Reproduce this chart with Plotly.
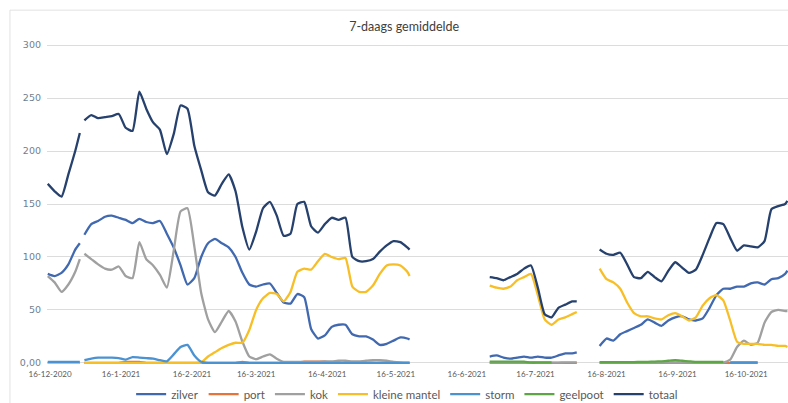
import plotly.graph_objects as go

N = None

dates = [
    "2020-12-15", "2020-12-18", "2020-12-21", "2020-12-24", "2020-12-27", "2020-12-29",
    "2020-12-30",
    "2020-12-31", "2021-01-03", "2021-01-06", "2021-01-09", "2021-01-12", "2021-01-15",
    "2021-01-18", "2021-01-21", "2021-01-24", "2021-01-27", "2021-01-30", "2021-02-02",
    "2021-02-05", "2021-02-08", "2021-02-11", "2021-02-14", "2021-02-17", "2021-02-20",
    "2021-02-23", "2021-02-26", "2021-03-01", "2021-03-04", "2021-03-07", "2021-03-10",
    "2021-03-13", "2021-03-16", "2021-03-19", "2021-03-22", "2021-03-25", "2021-03-28",
    "2021-03-31", "2021-04-03", "2021-04-06", "2021-04-09", "2021-04-12", "2021-04-15",
    "2021-04-18", "2021-04-21", "2021-04-24", "2021-04-27", "2021-04-30", "2021-05-03",
    "2021-05-06", "2021-05-09", "2021-05-12", "2021-05-15", "2021-05-18", "2021-05-21",
    "2021-05-22",
    "2021-06-09",
    "2021-06-26", "2021-06-29", "2021-07-02", "2021-07-05", "2021-07-08", "2021-07-11",
    "2021-07-14", "2021-07-17", "2021-07-20", "2021-07-23", "2021-07-26", "2021-07-29",
    "2021-08-01", "2021-08-03",
    "2021-08-08",
    "2021-08-13", "2021-08-16", "2021-08-19", "2021-08-22", "2021-08-25", "2021-08-28",
    "2021-08-31", "2021-09-03", "2021-09-06", "2021-09-09", "2021-09-12", "2021-09-15",
    "2021-09-18", "2021-09-21", "2021-09-24", "2021-09-27", "2021-09-30", "2021-10-03",
    "2021-10-06", "2021-10-09", "2021-10-12", "2021-10-15", "2021-10-18", "2021-10-21",
    "2021-10-24", "2021-10-27", "2021-10-30", "2021-11-02", "2021-11-03",
]

zilver = [
    84, 82, 85, 93, 107, 113,
    N,
    121, 131, 134, 138, 139, 137, 135, 132, 136, 133,
    132, 134, 122, 109, 92, 74, 80, 100, 113, 117,
    113, 109, 100, 85, 74, 72, 74, 75, 66, 57,
    56, 65, 62, 32, 23, 26, 34, 36, 36, 27,
    25, 25, 22, 17, 18, 21, 24, 23, 22,
    N,
    6, 7, 5, 4, 5, 6, 5, 6, 5, 5, 7, 9, 9, 10,
    N,
    16, 23, 21, 27, 30, 33, 36, 41, 38, 35,
    40, 43, 44, 41, 40, 42, 52, 64, 70, 70,
    72, 72, 75, 76, 74, 79, 80, 84, 87,
]

port = [
    0, 0, 0, 0, 0, 0,
    N,
    0, 0, 0, 0, 0, 0, 1, 1, 1, 0,
    0, 0, 0, 0, 0, 0, 0, 0, 0, 0,
    0, 0, 0, 1, 0, 0, 0, 0, 0, 0,
    0, 0, 1.2, 1.2, 1.2, 1.2, 0, 0, 0, 0,
    0, 0, 0, 0, 0, 0, 0, 0, 0,
    N,
    0, 0, 0, 0, 0, 0, 0, 0, 0, 0, 0, 0, 0, 0,
    N,
    0, 0, 0, 0, 0, 0, 0, 0, 0, 0,
    0, 0, 0, 0, 0, 0, 0, 0, 0, 0,
    0, 0, 0, 0, N, N, N, N, N,
]

kok = [
    82, 76, 67, 74, 86, 98,
    N,
    103, 98, 93, 89, 88, 91, 82, 80, 114, 98,
    92, 83, 71, 106, 143, 146, 110, 66, 41, 29,
    39, 49, 39, 20, 6, 3.5, 6, 8, 4, 1,
    1, 1, 1, 1, 1, 1.5, 1.5, 2, 2, 1.5,
    1.5, 2, 2.5, 2.5, 2, 1, 0.5, 0.3, 0.3,
    N,
    0.3, 0.3, 0.3, 0.3, 0.3, 0.3, 0.3, 0.3, 0.3, 0.3, 0.3, 0.4, 0.5, 0.5,
    N,
    0.3, 0.3, 0.3, 0.3, 0.3, 0.3, 0.3, 0.3, 0.3, 0.3,
    0.3, 0.3, 0.3, 0.3, 0.3, 0.3, 0.3, 0.3, 0.3, 3,
    15, 21, 17, 19, 38, 48, 50, 49, 49,
]

kleine_mantel = [
    0, 0, 0, 0, 0, 0,
    N,
    0, 0, 0, 0, 0, 0, 0, 0, 0, 0,
    0, 0, 0, 0, 0, 0, 0, 0.5, 6, 10,
    14, 17, 19, 19, 31, 50, 61, 66, 65, 58,
    67, 86, 89, 88, 96, 103, 100, 98, 99, 72,
    67, 67, 73, 84, 92, 93, 92, 86, 82,
    N,
    73, 71, 70, 72, 78, 81, 84, 64, 41, 36, 41, 43, 46, 48,
    N,
    89, 79, 76, 70, 57, 47, 44, 44, 42, 41,
    45, 47, 44, 40, 43, 54, 61, 64, 59, 40,
    20, 18, 18, 18, 17, 17, 16, 16, 15,
]

storm = [
    1, 1, 1, 1, 1, 1,
    N,
    2.5, 4, 5, 5, 5, 4.5, 3, 5.5, 5, 4.5,
    4, 2.5, 1.5, 8, 15, 17, 7, 1, 0, 0,
    0, 0, 0, 0, 0, 0, 0, 0, 0, 0,
    0, 0, 0, 0, 0, 0, 0, 0, 0, 0,
    0, 0, 0, 0, 0, 0, 0, 0, 0,
    N,
    N, N, N, N, N, N, N, N, N, N, N, N, N, N,
    N,
    N, N, N, N, N, N, N, N, N, N,
    N, N, N, N, N, N, N, N, N, 0.5,
    0.5, 0.5, 0.5, 0.5, N, N, N, N, N,
]

geelpoot = [
    N, N, N, N, N, N,
    N,
    N, N, N, N, N, N, N, N, N, N,
    N, N, N, N, N, N, N, N, N, N,
    N, N, N, N, N, N, N, N, N, N,
    N, N, N, N, N, N, N, N, N, N,
    N, N, N, N, N, N, N, N, N,
    N,
    1.2, 1.2, 1.2, 1.2, 1.2, 1.2, 0.4, 0.4, 0.4, 0.4, N, N, N, N,
    N,
    0.8, 0.8, 0.8, 0.8, 0.8, 0.8, 1, 1, 1.2, 1.5,
    2, 2.5, 2, 1.5, 1, 1, 1, 1, 1, N,
    N, N, N, N, N, N, N, N, N,
]

totaal = [
    169, 162, 157, 178, 200, 217,
    N,
    229, 234, 231, 232, 233, 235, 222, 219, 256, 240,
    227, 220, 197, 216, 243, 240, 205, 182, 161, 158,
    169, 178, 162, 128, 107, 124, 146, 152, 139, 120,
    122, 150, 152, 129, 123, 131, 137, 135, 137, 100,
    96, 96, 98, 105, 111, 115, 114, 109, 107,
    N,
    81, 80, 78, 81, 84, 89, 92, 71, 46, 43, 52, 55, 58, 58,
    N,
    107, 103, 102, 104, 93, 81, 80, 86, 81, 77,
    87, 95, 90, 85, 88, 102, 118, 132, 131, 118,
    106, 111, 110, 109, 115, 145, 148, 150, 153,
]

series_names = ["zilver", "port", "kok", "kleine mantel", "storm", "geelpoot", "totaal"]
series_values = [zilver, port, kok, kleine_mantel, storm, geelpoot, totaal]
series_colors = ["#4169B0", "#E5733A", "#A0A0A0", "#F8BE26", "#4A92D2", "#5DA545", "#26416E"]

tick_dates = ["2020-12-16", "2021-01-16", "2021-02-16", "2021-03-16", "2021-04-16",
              "2021-05-16", "2021-06-16", "2021-07-16", "2021-08-16", "2021-09-16",
              "2021-10-16"]
tick_labels = ["16-12-2020", "16-1-2021", "16-2-2021", "16-3-2021", "16-4-2021",
               "16-5-2021", "16-6-2021", "16-7-2021", "16-8-2021", "16-9-2021",
               "16-10-2021"]

y_ticks = [0, 50, 100, 150, 200, 250, 300]
y_labels = ["0,00", "50", "100", "150", "200", "250", "300"]

fig = go.Figure()
for name, vals, col in zip(series_names, series_values, series_colors):
    fig.add_trace(go.Scatter(
        x=dates, y=vals, name=name, mode="lines",
        line=dict(color=col, width=2.3, shape="spline", smoothing=0.5),
        connectgaps=False,
    ))

fig.update_layout(
    width=788, height=403,
    margin=dict(l=47, r=0, t=43, b=38, autoexpand=False),
    paper_bgcolor="white", plot_bgcolor="white",
    font=dict(family="Lato", color="#595959"),
    title=dict(text="7-daags gemiddelde", x=0.482, xref="paper", xanchor="center",
               y=0.933, yref="container", yanchor="middle",
               font=dict(family="Lato", size=12.5, color="#404040")),
    showlegend=True,
    legend=dict(orientation="h", x=0.486, xanchor="center",
                yref="container", y=0.022, yanchor="middle",
                font=dict(family="Lato", size=11.5, color="#595959"),
                itemwidth=30, tracegroupgap=0, bgcolor="rgba(0,0,0,0)"),
    xaxis=dict(type="date", range=["2020-12-14 16:00", "2021-11-03 06:00"],
               tickmode="array", tickvals=tick_dates, ticktext=tick_labels,
               showgrid=False, zeroline=False, showline=False, ticks="",
               ticklabelstandoff=3, automargin=False,
               tickfont=dict(family="Lato", size=8, color="#595959")),
    yaxis=dict(range=[-2, 302], tickmode="array", tickvals=y_ticks, ticktext=y_labels,
               showgrid=True, gridcolor="#dcdcdc", gridwidth=1, zeroline=False,
               showline=False, ticks="", ticklabelstandoff=5, automargin=False,
               tickfont=dict(family="DejaVu Sans", size=9.5, color="#6f7f90")),
    shapes=[dict(type="rect", xref="paper", yref="paper", x0=-0.05, x1=1.02,
                 y0=-0.3, y1=1.102, line=dict(color="#e2e2e2", width=1),
                 fillcolor="rgba(0,0,0,0)", layer="above")],
)

fig.write_html("out.html", config={"displayModeBar": False},
               post_script="document.body.style.margin='0';")
